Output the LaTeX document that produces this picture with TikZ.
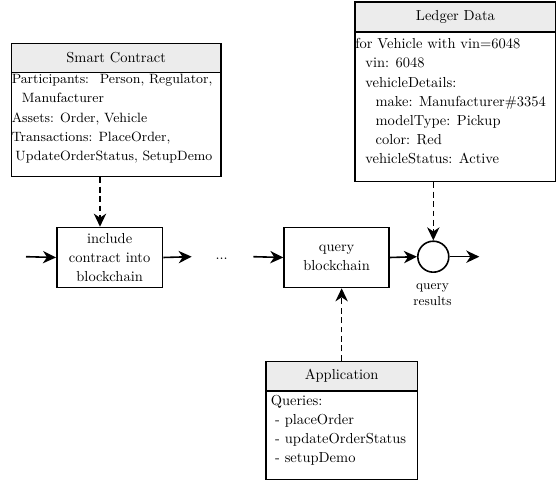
\documentclass[tikz,border=0pt]{standalone}
\usetikzlibrary{arrows.meta}
\begin{document}
\begin{tikzpicture}[x=0.69pt,y=-0.69pt,
  lw/.style={line width=1.1pt},
  box/.style={draw,lw,rectangle,inner sep=0pt,anchor=north west},
  head/.style={draw,lw,rectangle,fill=gray!15,inner sep=0pt,anchor=north west},
  body/.style={anchor=north west,align=left,inner sep=0pt,font=\fontsize{10}{13.2}\selectfont},
  proc/.style={draw,lw,rectangle,inner sep=0pt,anchor=north west,align=center,font=\fontsize{10}{13.2}\selectfont},
  arr/.style={lw,-{Stealth[length=9pt,width=8.5pt,inset=2.8pt]}},
  darr/.style={arr,dash pattern=on 4pt off 2.5pt}]
\useasboundingbox (0,0) rectangle (556,480);

% Smart Contract
\node[box,minimum width=209.3*0.69pt,minimum height=133*0.69pt] (sc) at (10.7,42.7) {};
\node[head,minimum width=209.3*0.69pt,minimum height=29*0.69pt] (sch) at (10.7,42.7) {Smart Contract};
\node[body,font=\fontsize{9.3}{13.2}\selectfont] (scb) at (11.5,74.2) {Participants:~ Person, Regulator,\\
\hspace*{7pt}Manufacturer\\
Assets: Order, Vehicle\\
Transactions: PlaceOrder,\\
\hspace*{2.5pt}UpdateOrderStatus, SetupDemo};

% Ledger Data
\node[box,minimum width=200.7*0.69pt,minimum height=179.7*0.69pt] (ld) at (354.3,1) {};
\node[head,minimum width=200.7*0.69pt,minimum height=30.3*0.69pt] (ldh) at (354.3,1) {Ledger Data};
\node[body] (ldb) at (355,38.3) {for Vehicle with vin=6048\\
\hspace*{7pt}vin: 6048\\
\hspace*{7pt}vehicleDetails:\\
\hspace*{14pt}make: Manufacturer\#3354\\
\hspace*{14pt}modelType: Pickup\\
\hspace*{14pt}color: Red\\
\hspace*{7pt}vehicleStatus: Active};

% Application
\node[box,minimum width=151.7*0.69pt,minimum height=118.3*0.69pt] (app) at (265,360.7) {};
\node[head,minimum width=151.7*0.69pt,minimum height=29.3*0.69pt] (apph) at (265,360.7) {Application};
\node[body] (appb) at (270.5,394.7) {Queries:\\
\hspace*{3pt}- placeOrder\\
\hspace*{3pt}- updateOrderStatus\\
\hspace*{3pt}- setupDemo};

% process row
\node[proc,minimum width=105.7*0.69pt,minimum height=60*0.69pt] (inc) at (56,226.7) {include\\contract into\\blockchain};
\node[proc,minimum width=105*0.69pt,minimum height=60*0.69pt] (qb) at (283.3,226.7) {query\\blockchain};
\node[draw,lw,circle,minimum size=31*0.69pt,inner sep=0pt] (res) at (433.3,256.7) {};
\node[font=\small,align=center,anchor=north,inner sep=0pt] (lbl) at (432.5,283) {query\\results};
\node[inner sep=0pt] (dots) at (221.7,259) {...};

\coordinate (s1) at (26,256.7);
\coordinate (e1) at (191.7,256.7);
\coordinate (s2) at (253.3,256.7);
\coordinate (e2) at (479.3,256.7);
\coordinate (scx) at (100,0);

\draw[arr] (s1) -- (inc.west);
\draw[arr] (inc.east) -- (e1);
\draw[arr] (s2) -- (qb.west);
\draw[arr] (qb.east) -- (res.west);
\draw[arr] (res.east) -- (e2);

\draw[darr] (sc.south -| scx) -- (inc.north -| scx);
\draw[darr] (ld.south -| res.north) -- (res.north);
\draw[darr] (app.north) -- (app.north |- qb.south);
\end{tikzpicture}
\end{document}
